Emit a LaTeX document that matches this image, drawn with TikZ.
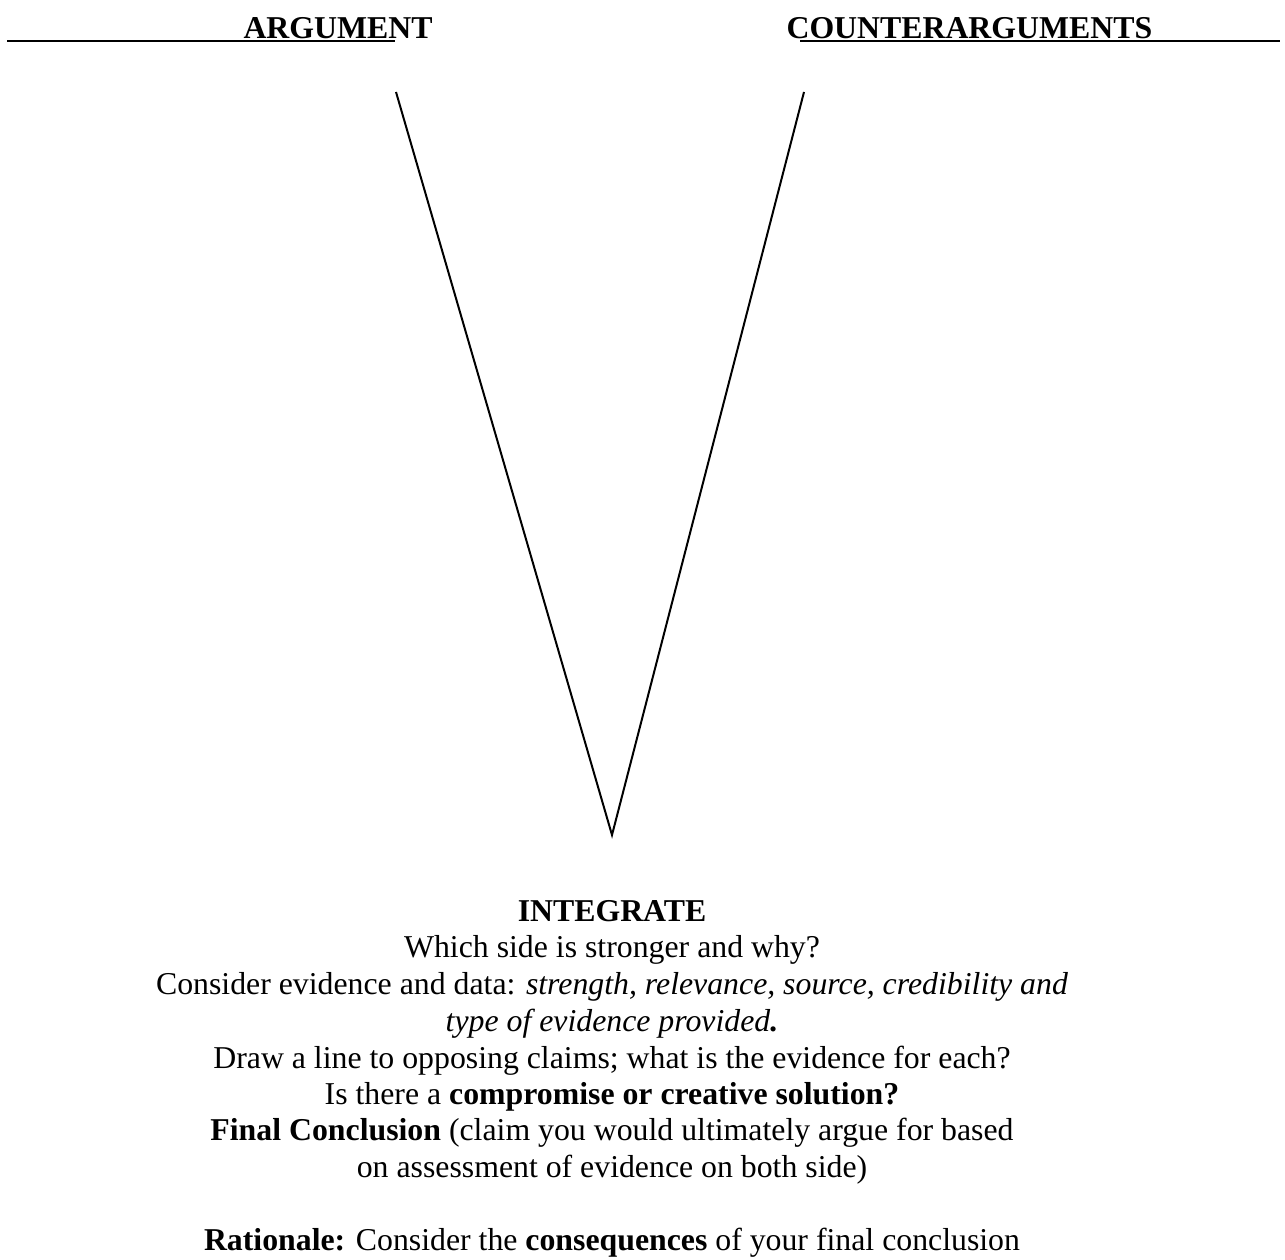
\documentclass[tikz,border=0pt]{standalone}
\usepackage{fontspec}
\setmainfont{Liberation Serif}
\usepackage{tikz}
\usetikzlibrary{positioning, calc}

\begin{document}
\begin{tikzpicture}[
  x=0.3774pt, y=-0.3774pt,
  txt/.style={anchor=base, inner sep=0pt, font=\fontsize{12}{13.85}\selectfont},
  head/.style={anchor=base west, inner sep=0pt, font=\fontsize{12}{13.85}\selectfont\bfseries},
  uline/.style={line width=0.6pt, black},
  vline/.style={line width=0.75pt, black},
]
  \useasboundingbox (0,0) rectangle (1285,1260);

  % column headings
  \node[head] (arg) at (243,39) {ARGUMENT};
  \node[head] (cntr) at (786,39) {COUNTERARGUMENTS};
  \draw[uline] (7,41) -- (395,41);
  \draw[uline] (800,41) -- (1280,41);

  % the V
  \coordinate (ltop) at (396,92);
  \coordinate (rtop) at (804,92);
  \coordinate (apex) at (612,835);
  \draw[vline] (ltop) -- (apex) -- (rtop);

  % integrate text
  \node[txt] (integ) at (612,921) {\textbf{INTEGRATE}};
  \node[txt] (which) at (612,957) {Which side is stronger and why?};
  \node[txt] (cons)  at (612,994) {Consider evidence and data: \textit{strength, relevance, source, credibility and}};
  \node[txt] (type)  at (612,1031) {\textit{type of evidence provided}\textbf{\textit{.}}};
  \node[txt] (draw)  at (612,1068) {Draw a line to opposing claims; what is the evidence for each?};
  \node[txt] (comp)  at (612,1104) {Is there a \textbf{compromise or creative solution?}};
  \node[txt] (final) at (612,1140) {\textbf{Final Conclusion} (claim you would ultimately argue for based};
  \node[txt] (assess) at (612,1177) {on assessment of evidence on both side)};
  \node[txt] (rat)   at (612,1250) {\textbf{Rationale:} Consider the \textbf{consequences} of your final conclusion};
\end{tikzpicture}
\end{document}
